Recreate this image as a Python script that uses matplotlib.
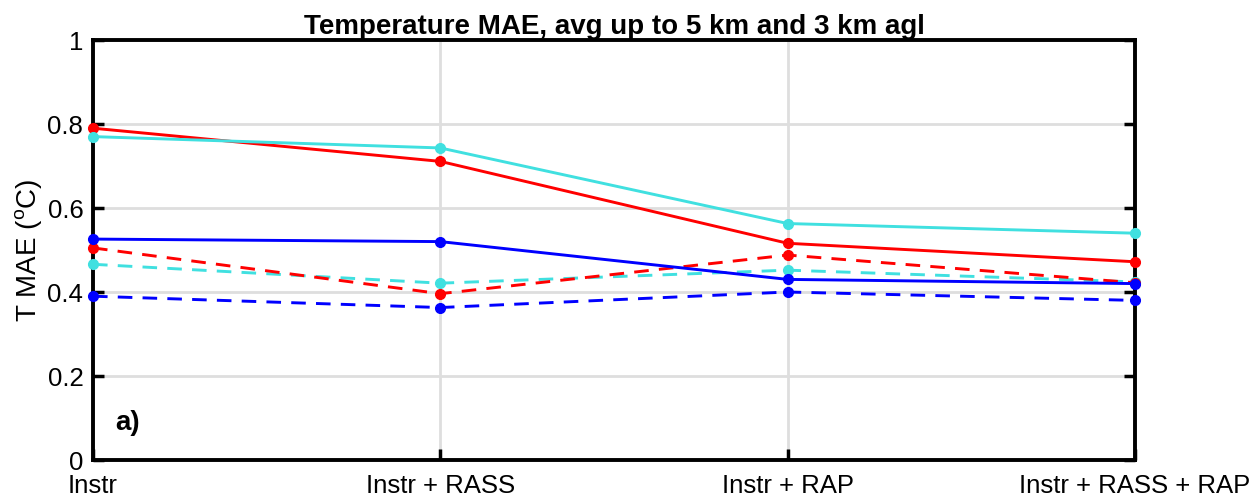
import matplotlib
matplotlib.use("Agg")
import matplotlib.pyplot as plt

plt.rcParams['font.family'] = ['Liberation Sans', 'DejaVu Sans']
plt.rcParams['mathtext.fontset'] = 'custom'
plt.rcParams['mathtext.rm'] = 'Liberation Sans'

categories = ["Instr", "Instr + RASS", "Instr + RAP", "Instr + RASS + RAP"]

red_solid = [0.790, 0.711, 0.516, 0.472]
cyan_solid = [0.770, 0.743, 0.563, 0.540]
blue_solid = [0.526, 0.520, 0.430, 0.420]
red_dashed = [0.505, 0.396, 0.488, 0.422]
cyan_dashed = [0.466, 0.421, 0.452, 0.424]
blue_dashed = [0.390, 0.363, 0.400, 0.380]

yticks = [0, 0.2, 0.4, 0.6, 0.8, 1]
ytick_labels = ["0", "0.2", "0.4", "0.6", "0.8", "1"]

RED = '#FF0000'
BLUE = '#0000FF'
CYAN = '#40E0E0'

fig = plt.figure(figsize=(12.54, 4.99), dpi=100)
ax = fig.add_axes([93/1254, 39/499, 1042/1254, 420/499])

x = list(range(len(categories)))
lw = 2.1
ms = 7
dash = (0, (5, 3.5))

series = [
    (blue_dashed, BLUE, dash),
    (cyan_dashed, CYAN, dash),
    (red_dashed, RED, dash),
    (blue_solid, BLUE, '-'),
    (red_solid, RED, '-'),
    (cyan_solid, CYAN, '-'),
]
for vals, col, ls in series:
    ax.plot(x, vals, color=col, linestyle=ls, linewidth=lw, marker='o',
            markersize=ms, markeredgecolor=col, markerfacecolor=col,
            clip_on=False, zorder=3)

ax.set_xlim(0, len(categories) - 1)
ax.set_ylim(0, 1)
ax.set_xticks(x)
ax.set_xticklabels(categories, fontsize=18.5)
ax.set_yticks(yticks)
ax.set_yticklabels(ytick_labels, fontsize=18.5)
ax.grid(True, color='#DEDEDE', linewidth=2.0, zorder=0)
ax.set_axisbelow(True)
ax.tick_params(axis='y', direction='in', length=8, width=2.5, pad=7, right=True)
ax.tick_params(axis='x', direction='in', length=8, width=2.5, pad=10, top=False)
for s in ax.spines.values():
    s.set_linewidth(2.8)
    s.set_color('black')

ax.set_ylabel('T MAE ($^{\\rm o}$C)', fontsize=20, labelpad=2)
ax.set_title('Temperature MAE, avg up to 5 km and 3 km agl', fontsize=20,
             fontweight='bold', pad=3)
ax.text(0.021, 0.088, 'a)', transform=ax.transAxes, fontsize=20,
        fontweight='bold', va='center', ha='left')

fig.savefig('out.png', dpi=100)
